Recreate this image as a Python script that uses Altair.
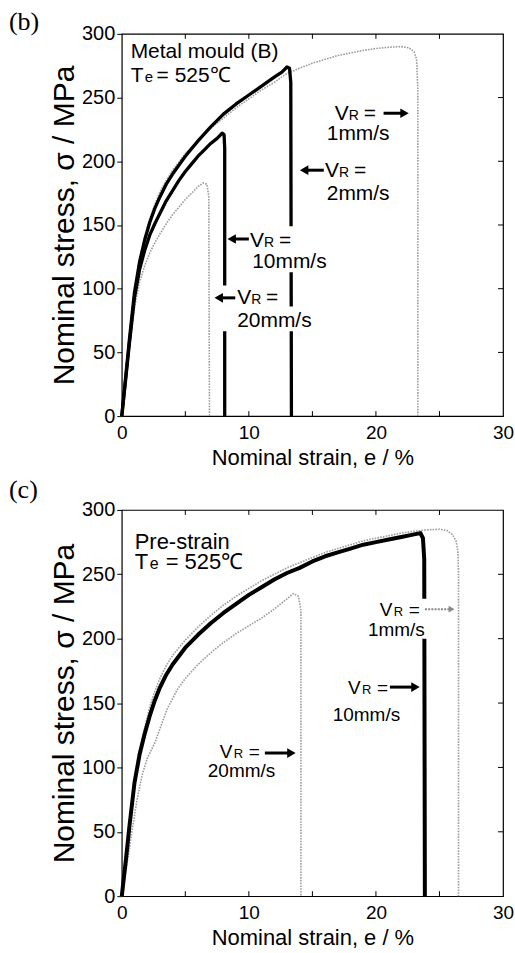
import altair as alt
import pandas as pd

FONT = "Liberation Sans"
NARROW = "Liberation Sans Narrow, Liberation Sans"
SERIF = "Liberation Serif"

# ---------------- panel (b): metal mould (B), Te = 525 C ----------------
b_strain_1 = [0, 0.3, 0.6, 1.0, 1.4, 1.8, 2.2, 2.6, 3.0, 3.5, 4.0, 5.0, 6.0, 7.0, 8.0, 9.0, 10.0,
              11.0, 12.0, 13.0, 14.0, 15.0, 16.0, 17.0, 18.0, 19.0, 20.0, 21.0, 22.0, 22.6, 23.0,
              23.2, 23.3, 23.3]
b_stress_1 = [0, 29, 59, 97, 123, 141, 155, 166, 176, 185, 193, 206, 216, 226, 234, 242, 249,
              256, 262, 269, 273, 277, 280, 283, 285, 287, 288.5, 289.5, 290, 289, 286,
              280, 255, 0]

b_strain_2 = [0, 0.3, 0.6, 1.0, 1.4, 1.8, 2.2, 2.6, 3.0, 3.5, 4.0, 5.0, 6.0, 7.0, 8.0, 9.0, 10.0,
              11.0, 12.0, 12.6, 13.0, 13.2, 13.3, 13.35]
b_stress_2 = [0, 30, 60, 97, 121, 138, 152, 163, 172, 182, 190, 204, 216, 227, 237, 245, 252,
              259, 266, 270, 274, 273, 262, 0]

b_strain_10 = [0, 0.3, 0.6, 1.0, 1.4, 1.8, 2.2, 2.6, 3.0, 3.5, 4.0, 4.5, 5.0, 5.5, 6.0, 6.5,
               7.0, 7.5, 7.9, 8.05, 8.1, 8.1]
b_stress_10 = [0, 28, 57, 93, 115, 130, 142, 151, 159, 169, 177, 185, 192, 198, 204, 209,
               214, 218, 222, 221, 210, 0]

b_strain_20 = [0, 0.3, 0.6, 1.0, 1.4, 1.8, 2.2, 2.6, 3.0, 3.5, 4.0, 4.5, 5.0, 5.5, 6.0, 6.4,
               6.7, 6.85, 6.9]
b_stress_20 = [0, 25, 52, 85, 105, 118, 128, 136, 143, 151, 158, 164, 170, 175, 180, 183,
               182, 172, 0]

# ---------------- panel (c): pre-strain, Te = 525 C ----------------
c_strain_1 = [0, 0.3, 0.6, 1.0, 1.4, 1.8, 2.2, 2.6, 3.0, 3.5, 4, 5, 6, 7, 8, 9, 10, 11, 12, 13,
              14, 15, 16, 17, 18, 19, 20, 21, 22, 23, 24, 25, 25.6, 26.0, 26.3, 26.45, 26.5, 26.5]
c_stress_1 = [0, 25, 53, 88, 113, 131, 147, 159, 169, 179, 187, 199, 209, 218, 226, 233, 239,
              245, 250, 255, 259, 263, 267, 270, 273, 276, 278, 280, 282, 283.5, 284.5, 285,
              284, 281, 276, 268, 250, 0]

c_strain_10 = [0, 0.3, 0.6, 1.0, 1.4, 1.8, 2.2, 2.6, 3.0, 3.5, 4, 5, 6, 7, 8, 9, 10, 11, 12, 13,
               14, 15, 16, 17, 18, 19, 20, 21, 22, 23, 23.5, 23.7, 23.8, 23.85]
c_stress_10 = [0, 26, 54, 88, 110, 126, 140, 152, 162, 172, 180, 193, 203, 212, 220, 227, 234,
               240, 246, 251, 255, 260, 264, 267, 270, 273, 275, 277, 279, 281, 282, 278, 262, 0]

c_strain_20 = [0, 0.4, 0.8, 1.2, 1.6, 2.0, 2.6, 3.0, 3.6, 4.4, 5, 6, 7, 8, 9, 10, 11, 12, 13,
               13.5, 13.9, 14.1, 14.1]
c_stress_20 = [0, 24, 50, 75, 94, 107, 119, 130, 146, 161, 169, 180, 189, 197, 204, 210, 216,
               223, 231, 235, 233, 222, 0]

# ---------------- axes ----------------
x_labels = [0, 10, 20, 30]
x_inner_ticks = [5, 10, 15, 20, 25]
y_labels = [0, 50, 100, 150, 200, 250, 300]
y_inner_ticks = [50, 100, 150, 200, 250]

# ---------------- annotations (strain %, stress MPa) ----------------
b_vr_e = [16.76, 16.0, 10.1, 9.08]
b_vr_s = [232.6, 188.0, 133.0, 87.7]
b_rate_txt = ["1mm/s", "2mm/s", "10mm/s", "20mm/s"]
b_rate_e = [16.13, 16.13, 10.26, 9.08]
b_rate_s = [217.0, 170.0, 116.0, 69.7]
b_arrow_tail = [20.6, 15.9, 10.0, 8.93]
b_arrow_head = [22.6, 14.0, 8.3, 7.28]
b_arrow_s = [237.7, 193.0, 139.0, 92.8]
b_arrow_kind = ["solid", "solid", "solid", "solid"]
b_box_e0 = [8.4, 7.3, 7.3]
b_box_e1 = [16.6, 12.8, 15.7]
b_box_s0 = [113.0, 85.4, 66.6]
b_box_s1 = [149.0, 102.6, 86.0]

c_vr_e = [20.3, 17.8, 7.72]
c_vr_s = [217.8, 157.4, 107.0]
c_rate_txt = ["1mm/s", "10mm/s", "20mm/s"]
c_rate_e = [19.37, 16.6, 6.77]
c_rate_s = [202.3, 136.4, 92.2]
c_arrow_tail = [23.86, 21.1, 11.26]
c_arrow_head = [26.3, 23.46, 13.7]
c_arrow_s = [222.9, 162.4, 111.2]
c_arrow_kind = ["dotted", "solid", "solid"]
c_box_e0 = [19.0]
c_box_e1 = [24.2]
c_box_s0 = [200.0]
c_box_s1 = [231.0]

W = 382

xs = alt.Scale(domain=[0, 30], nice=False, zero=False)
ys = alt.Scale(domain=[0, 300], nice=False, zero=False)
x_axis = alt.Axis(values=x_labels, ticks=False, tickSize=0, domain=False, grid=False,
                  labelFlush=False, labelFontSize=19, labelPadding=7, labelFont=FONT,
                  labelColor="black", title="Nominal strain, e / %", titleFont=FONT,
                  titleFontSize=22, titleFontWeight="normal", titlePadding=5,
                  titleColor="black")
y_axis = alt.Axis(values=y_labels, ticks=True, tickSize=5, tickColor="black", tickWidth=1,
                  domain=False, grid=False, labelFontSize=20, labelPadding=2, labelFont=FONT,
                  labelColor="black", title="Nominal stress, σ / MPa", titleFont=FONT,
                  titleFontSize=30, titleFontWeight="normal", titlePadding=2,
                  titleColor="black")
X = alt.X("strain:Q", scale=xs, axis=x_axis)
X2 = alt.X2("strain2:Q")
Y = alt.Y("stress:Q", scale=ys, axis=y_axis)
Y2 = alt.Y2("stress2:Q")


def curve_frame(curves):
    rows = []
    for name, (e, s) in curves.items():
        for i, (a, b) in enumerate(zip(e, s)):
            rows.append({"rate": name, "i": i, "strain": a, "stress": b})
    return pd.DataFrame(rows)


def panel(tag, black, gray, vr, rate, arrows, boxes, header, F, rate_font, H, black_w):
    layers = []
    # stress-strain curves
    layers.append(alt.Chart(curve_frame(gray)).mark_line(
        color="#9c9c9c", strokeWidth=1.6, strokeDash=[1.6, 1.2]).encode(
        x=X, y=Y, detail="rate:N", order="i:Q"))
    layers.append(alt.Chart(curve_frame(black)).mark_line(
        color="black", strokeWidth=black_w, strokeJoin="round").encode(
        x=X, y=Y, detail="rate:N", order="i:Q"))
    # white label boxes interrupt the curves behind the labels
    bx = pd.DataFrame({"strain": boxes[0], "strain2": boxes[1],
                       "stress": boxes[2], "stress2": boxes[3]})
    layers.append(alt.Chart(bx).mark_rect(color="white").encode(x=X, x2=X2, y=Y, y2=Y2))
    # inward ticks on bottom, top and right
    tx = pd.DataFrame({"strain": x_inner_ticks})
    layers.append(alt.Chart(tx).mark_rule(color="black", strokeWidth=1).encode(
        x=X, y=alt.value(H), y2=alt.value(H - 5)))
    layers.append(alt.Chart(tx).mark_rule(color="black", strokeWidth=1).encode(
        x=X, y=alt.value(0), y2=alt.value(5)))
    ty = pd.DataFrame({"stress": y_inner_ticks})
    layers.append(alt.Chart(ty).mark_rule(color="black", strokeWidth=1).encode(
        y=Y, x=alt.value(W), x2=alt.value(W - 5)))
    # header text
    for txt, e, s, size, dx in header:
        d = pd.DataFrame({"strain": [e], "stress": [s], "t": [txt]})
        layers.append(alt.Chart(d).mark_text(
            align="left", baseline="alphabetic", font=FONT, fontSize=size, dx=dx,
            color="black").encode(x=X, y=Y, text="t:N"))
    # V_R = labels
    dv = pd.DataFrame({"strain": vr[0], "stress": vr[1]})
    for txt, size, dx in [("V", F, 0), ("R", round(F * 0.68), 14), ("=", F, 29)]:
        layers.append(alt.Chart(dv).mark_text(
            align="left", baseline="alphabetic", font=rate_font, fontSize=size, dx=dx,
            color="black", text=txt).encode(x=X, y=Y))
    dr = pd.DataFrame({"strain": rate[1], "stress": rate[2], "t": rate[0]})
    layers.append(alt.Chart(dr).mark_text(
        align="left", baseline="alphabetic", font=rate_font, fontSize=F,
        color="black").encode(x=X, y=Y, text="t:N"))
    # arrows
    tail, head, s_arr, kind = arrows
    da = pd.DataFrame({
        "strain": tail,
        "strain2": [h - 0.3 * (1 if h > t else -1) for t, h in zip(tail, head)],
        "stress": s_arr, "kind": kind})
    dh = pd.DataFrame({
        "strain": [h - 0.35 * (1 if h > t else -1) for t, h in zip(tail, head)],
        "stress": s_arr, "kind": kind,
        "shape": ["triangle-right" if h > t else "triangle-left" for t, h in zip(tail, head)]})
    solid = alt.datum.kind == "solid"
    dotted = alt.datum.kind == "dotted"
    layers.append(alt.Chart(da).transform_filter(solid).mark_rule(
        color="black", strokeWidth=3).encode(x=X, x2=X2, y=Y))
    layers.append(alt.Chart(dh).transform_filter(solid).mark_point(
        filled=True, color="black", size=95, opacity=1).encode(
        x=X, y=Y, shape=alt.Shape("shape:N", scale=None)))
    layers.append(alt.Chart(da).transform_filter(dotted).mark_rule(
        color="#8a8a8a", strokeWidth=2, strokeDash=[2, 1.2]).encode(x=X, x2=X2, y=Y))
    layers.append(alt.Chart(dh).transform_filter(dotted).mark_point(
        filled=True, color="#8a8a8a", size=45, opacity=1).encode(
        x=X, y=Y, shape=alt.Shape("shape:N", scale=None)))
    # panel tag
    layers.append(alt.Chart(pd.DataFrame({"t": [tag[0]]})).mark_text(
        align="left", baseline="alphabetic", font=SERIF, fontSize=26,
        color="black").encode(x=alt.value(-113), y=alt.value(tag[1]), text="t:N"))
    return alt.layer(*layers).properties(width=W, height=H)


panel_b = panel(
    ("(b)", -4),
    black={"2mm/s": (b_strain_2, b_stress_2), "10mm/s": (b_strain_10, b_stress_10)},
    gray={"1mm/s": (b_strain_1, b_stress_1), "20mm/s": (b_strain_20, b_stress_20)},
    vr=(b_vr_e, b_vr_s),
    rate=(b_rate_txt, b_rate_e, b_rate_s),
    arrows=(b_arrow_tail, b_arrow_head, b_arrow_s, b_arrow_kind),
    boxes=(b_box_e0, b_box_e1, b_box_s0, b_box_s1),
    header=[("Metal mould (B)", 0.7, 281.0, 21, 0),
            ("T", 0.7, 262.0, 21, 0), ("e", 0.7, 262.0, 15, 14),
            ("= 525℃", 0.7, 262.0, 21, 26)],
    F=21, rate_font=FONT, H=383, black_w=3.3)

panel_c = panel(
    ("(c)", -12),
    black={"10mm/s": (c_strain_10, c_stress_10)},
    gray={"1mm/s": (c_strain_1, c_stress_1), "20mm/s": (c_strain_20, c_stress_20)},
    vr=(c_vr_e, c_vr_s),
    rate=(c_rate_txt, c_rate_e, c_rate_s),
    arrows=(c_arrow_tail, c_arrow_head, c_arrow_s, c_arrow_kind),
    boxes=(c_box_e0, c_box_e1, c_box_s0, c_box_s1),
    header=[("Pre-strain", 1.02, 269.8, 22, 0),
            ("T", 1.02, 254.3, 22, 0), ("e", 1.02, 254.3, 16, 15),
            ("= 525℃", 1.02, 254.3, 22, 31)],
    F=19, rate_font=NARROW, H=387, black_w=4)

chart = alt.vconcat(panel_b, panel_c, spacing=7).configure_view(
    stroke="black", strokeWidth=1.2).properties(
    padding={"left": 8, "top": 7, "right": 0, "bottom": 0}, background="white")

chart.save("out.html", embed_options={"renderer": "svg", "actions": False})
